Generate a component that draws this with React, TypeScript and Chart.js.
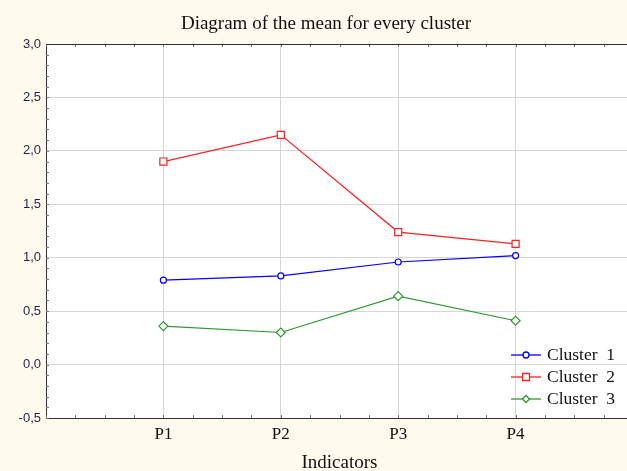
import React, { useEffect, useRef } from 'react';
import { Chart, registerables } from 'chart.js';
Chart.register(...registerables);

const categories = ['P1', 'P2', 'P3', 'P4'];
const seriesNames = ['Cluster  1', 'Cluster  2', 'Cluster  3'];
const cluster1 = [0.79, 0.83, 0.96, 1.02];
const cluster2 = [1.9, 2.15, 1.24, 1.13];
const cluster3 = [0.36, 0.3, 0.64, 0.41];
const yMin = -0.5;
const yMax = 3.0;
const yStep = 0.5;

const colors = ['#0000ff', '#ff2020', '#2e9a2e'];
const pointStyles = ['circle', 'rect', 'rectRot'];
const pointRadii = [3, 5, 4.5];

const CREAM = '#fff9ee';
const SERIF = "'Liberation Serif', 'Times New Roman', serif";
const SANS = "'Liberation Sans', Arial, sans-serif";

const frame = {
  id: 'frame',
  beforeDraw(chart: any) {
    const { ctx, chartArea: a, width, height } = chart;
    ctx.save();
    ctx.fillStyle = CREAM;
    ctx.fillRect(0, 0, width, height);
    ctx.fillStyle = '#ffffff';
    ctx.fillRect(a.left, a.top, a.right - a.left, a.bottom - a.top);
    ctx.restore();
  },
  afterDraw(chart: any) {
    const { ctx, chartArea: a, scales } = chart;
    const xs = scales.x;
    const ys = scales.y;
    ctx.save();
    ctx.strokeStyle = '#777';
    ctx.lineWidth = 1;
    ctx.beginPath();
    for (let i = 0; i <= 35; i++) {
      const v = yMin + i * 0.1;
      const py = Math.round(ys.getPixelForValue(v)) + 0.5;
      ctx.moveTo(a.left, py);
      ctx.lineTo(a.left + 3, py);
    }
    for (let i = 0; i <= 20; i++) {
      const v = i * 0.25;
      const px = Math.round(xs.getPixelForValue(v)) + 0.5;
      ctx.moveTo(px, a.bottom);
      ctx.lineTo(px, a.bottom - 3);
      ctx.moveTo(px, a.top);
      ctx.lineTo(px, a.top + 3);
    }
    ctx.stroke();
    ctx.strokeStyle = '#333';
    ctx.beginPath();
    ctx.moveTo(a.left, Math.round(a.top) + 0.5);
    ctx.lineTo(a.right, Math.round(a.top) + 0.5);
    ctx.stroke();

    const x0 = a.right - 122;
    const rows = [a.bottom - 63, a.bottom - 41, a.bottom - 19];
    chart.data.datasets.forEach((ds: any, i: number) => {
      const y = rows[i];
      ctx.strokeStyle = ds.borderColor;
      ctx.lineWidth = 1.3;
      ctx.beginPath();
      ctx.moveTo(x0, y);
      ctx.lineTo(x0 + 30, y);
      ctx.stroke();
      const cx = x0 + 15;
      ctx.fillStyle = '#fff';
      ctx.beginPath();
      if (ds.pointStyle === 'circle') {
        ctx.arc(cx, y, 3, 0, Math.PI * 2);
      } else if (ds.pointStyle === 'rect') {
        ctx.rect(cx - 3.5, y - 3.5, 7, 7);
      } else {
        ctx.moveTo(cx, y - 3.5);
        ctx.lineTo(cx + 3.5, y);
        ctx.lineTo(cx, y + 3.5);
        ctx.lineTo(cx - 3.5, y);
        ctx.closePath();
      }
      ctx.fill();
      ctx.stroke();
      ctx.fillStyle = '#111';
      ctx.font = `17.5px ${SERIF}`;
      ctx.textBaseline = 'middle';
      ctx.textAlign = 'left';
      ctx.fillText(ds.label, x0 + 36, y);
    });
    ctx.restore();
  },
};

const seriesValues = [cluster1, cluster2, cluster3];

export default function App() {
  const ref = useRef<HTMLCanvasElement | null>(null);
  useEffect(() => {
    const canvas = ref.current!;
    const chart = new Chart(canvas, {
      type: 'line',
      data: {
        datasets: seriesValues.map((vals, i) => ({
          label: seriesNames[i],
          data: vals.map((v, j) => ({ x: j + 1, y: v })),
          borderColor: colors[i],
          backgroundColor: '#ffffff',
          pointBackgroundColor: '#ffffff',
          pointBorderColor: colors[i],
          pointStyle: pointStyles[i] as any,
          pointRadius: pointRadii[i],
          pointBorderWidth: 1.2,
          borderWidth: 1.2,
          tension: 0,
          fill: false,
        })),
      },
      options: {
        animation: false,
        responsive: false,
        events: [],
        layout: { padding: { left: 19, right: 20, top: 0, bottom: 0 } },
        plugins: {
          legend: { display: false },
          tooltip: { enabled: false },
          title: {
            display: true,
            text: 'Diagram of the mean for every cluster',
            color: '#111',
            font: { family: SERIF, size: 19, weight: 'normal' },
            padding: { top: 13, bottom: 8.2 },
          },
        },
        scales: {
          x: {
            type: 'linear',
            min: 0,
            max: 5,
            afterBuildTicks: (s: any) => {
              s.ticks = [0, 1, 2, 3, 4, 5].map((v) => ({ value: v }));
            },
            afterFit: (s: any) => {
              s.height = 53;
            },
            ticks: {
              callback: (v: any) => categories[Number(v) - 1] ?? '',
              color: '#111',
              font: { family: SERIF, size: 17 },
              padding: 6,
              maxRotation: 0,
              autoSkip: false,
            },
            grid: {
              drawTicks: false,
              color: (c: any) => (c.tick && c.tick.value >= 1 && c.tick.value <= 4 ? '#d6d6d6' : 'rgba(0,0,0,0)'),
              lineWidth: 1,
            },
            border: { display: true, color: '#333', width: 1 },
            title: {
              display: true,
              text: 'Indicators',
              color: '#111',
              font: { family: SERIF, size: 19 },
              padding: { top: 0, bottom: -3 },
            },
          },
          y: {
            type: 'linear',
            min: yMin,
            max: yMax,
            afterBuildTicks: (s: any) => {
              const t = [];
              for (let v = yMin; v <= yMax + 1e-9; v += yStep) t.push({ value: Math.round(v * 10) / 10 });
              s.ticks = t;
            },
            afterFit: (s: any) => {
              s.width = 27;
            },
            ticks: {
              callback: (v: any) => Number(v).toFixed(1).replace('.', ','),
              color: '#1c2440',
              font: { family: SANS, size: 13 },
              padding: 5,
            },
            grid: { drawTicks: false, color: '#d6d6d6', lineWidth: 1 },
            border: { display: true, color: '#333', width: 1 },
          },
        },
      },
      plugins: [frame],
    });
    return () => chart.destroy();
  }, []);
  return (
    <div style={{ position: 'fixed', left: 0, top: 0, width: 627, height: 471, overflow: 'hidden', background: CREAM }}>
      <canvas ref={ref} width={653} height={471} style={{ display: 'block', width: 653, height: 471 }} />
    </div>
  );
}
